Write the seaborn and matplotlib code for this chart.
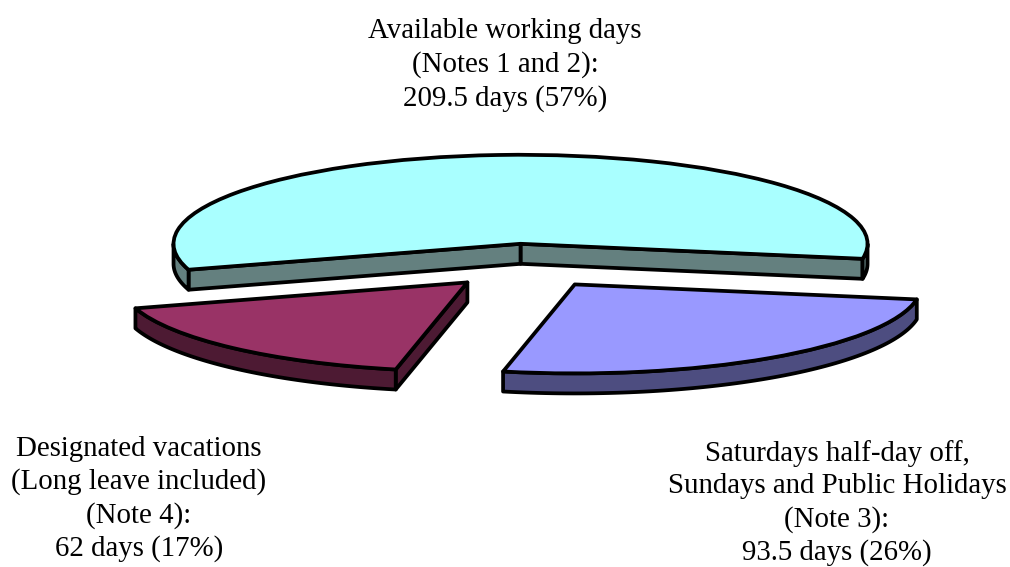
import numpy as np
import matplotlib
matplotlib.use("Agg")
import matplotlib.pyplot as plt
from matplotlib.patches import Polygon
import seaborn as sns

# Working-day breakdown for the year
days = [209.5, 62, 93.5]
labels = [
    "Available working days\n(Notes 1 and 2):\n209.5 days (57%)",
    "Designated vacations\n(Long leave included)\n(Note 4):\n62 days (17%)",
    "Saturdays half-day off,\nSundays and Public Holidays\n(Note 3):\n93.5 days (26%)",
]
top_colors = ["#A9FFFF", "#993366", "#9999FF"]
side_colors = ["#64807F", "#4D1A33", "#4D4D80"]
label_px = [(505, 65), (139, 499), (837, 503)]

START = -9.7      # angle where the first slice begins
EXPLODE = 0.25    # separation of the slices, in radius units
DEPTH = 0.225     # disc thickness, in vertical radius units
LINE = 2.7
W, H = 1010, 567
CX, CY, SX, SY = 526, 266, 347, 89   # disc centre and radii in pixels

sns.set_theme(style="white")
plt.rcParams["font.family"] = ["Liberation Serif", "DejaVu Serif"]

fig = plt.figure(figsize=(W / 100, H / 100), dpi=100)
ax = fig.add_axes([0, 0, 1, 1])

wedges, _ = ax.pie(
    days,
    startangle=START,
    explode=[EXPLODE] * len(days),
    colors=top_colors,
    wedgeprops=dict(edgecolor="black", linewidth=LINE, joinstyle="round", zorder=5),
)
ax.set_aspect("auto")
ax.set_xlim(-CX / SX, (W - CX) / SX)
ax.set_ylim((CY - H) / SY, CY / SY)


def wall(points, color, z):
    """Extrude a top-edge polyline downwards into a side face."""
    pts = np.asarray(points)
    low = pts - [0, DEPTH]
    ax.add_patch(Polygon(np.vstack([pts, low[::-1]]), closed=True, facecolor=color,
                         edgecolor="black", linewidth=LINE, joinstyle="round", zorder=z))


def polar(t):
    return np.column_stack([np.cos(np.radians(t)), np.sin(np.radians(t))])


# Side faces are derived from the same slice angles the pie uses
edges = START + np.cumsum([0] + days) / sum(days) * 360
for i, (a, b) in enumerate(zip(edges[:-1], edges[1:])):
    mid = np.radians((a + b) / 2)
    apex = np.array([EXPLODE * np.cos(mid), EXPLODE * np.sin(mid)])
    base_z = 1 + i

    # Straight cut faces that turn towards the viewer
    if np.sin(np.radians(a - 90)) < 0:
        wall([apex, apex + polar([a])[0]], side_colors[i], base_z)
    if np.sin(np.radians(b + 90)) < 0:
        wall([apex, apex + polar([b])[0]], side_colors[i], base_z)

    # Rim: only the part on the lower half of the ellipse shows
    for lo, hi in [(a, b), (a - 360, b - 360)]:
        lo, hi = max(lo, -180), min(hi, 0)
        if hi > lo:
            arc = apex + polar(np.linspace(lo, hi, 80))
            wall(arc, side_colors[i], base_z + 0.5)

for text, (x, y) in zip(labels, label_px):
    fig.text(x / W, 1 - y / H, text, ha="center", va="center",
             fontsize=20.8, linespacing=1.32, color="black")

fig.savefig("out.png", dpi=100)
